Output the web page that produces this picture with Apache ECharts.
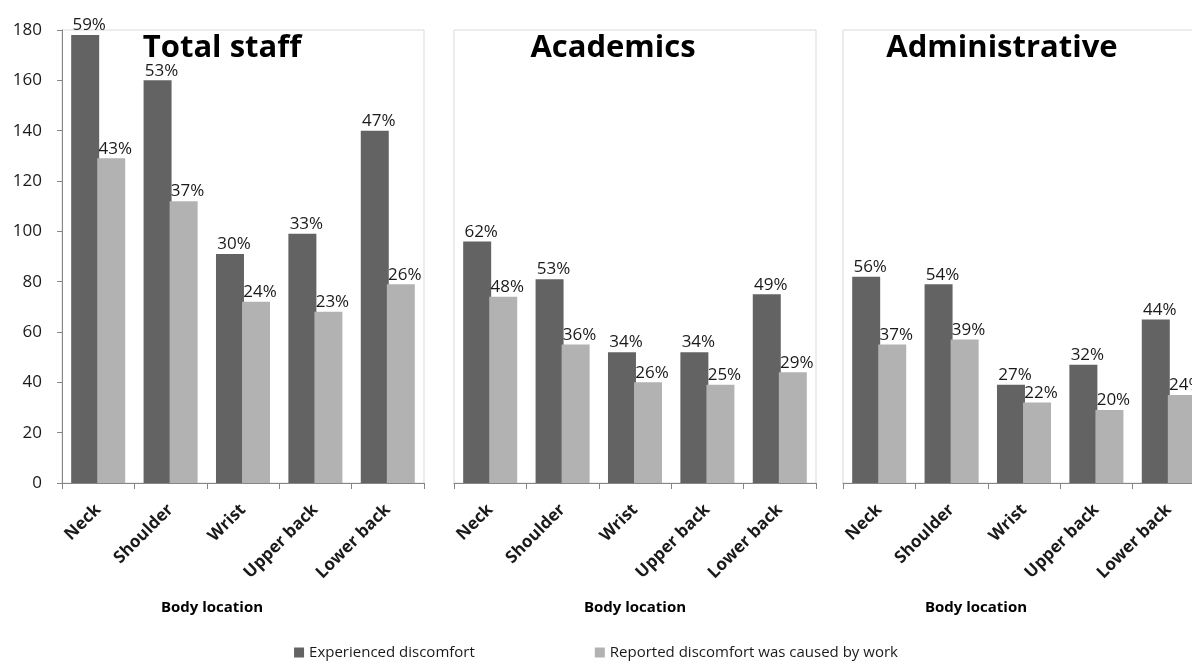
<!DOCTYPE html>
<html>
<head>
<meta charset="utf-8">
<script src="https://cdn.jsdelivr.net/npm/echarts@6/dist/echarts.min.js"></script>
<style>
  html, body { margin: 0; padding: 0; background: #ffffff; }
  #chart { width: 1192px; height: 669px; }
</style>
</head>
<body>
<div id="chart"></div>
<script>
// Body locations shown on every panel
const categories = ['Neck', 'Shoulder', 'Wrist', 'Upper back', 'Lower back'];
const panelTitles = ['Total staff', 'Academics', 'Administrative'];
const axisTitle = 'Body location';
const seriesNames = ['Experienced discomfort', 'Reported discomfort was caused by work'];

// Counts of staff (bar heights) and share of the group (labels), per panel
const totalExperienced = [178, 160, 91, 99, 140];
const totalWork = [129, 112, 72, 68, 79];
const totalExperiencedPct = [59, 53, 30, 33, 47];
const totalWorkPct = [43, 37, 24, 23, 26];

const acadExperienced = [96, 81, 52, 52, 75];
const acadWork = [74, 55, 40, 39, 44];
const acadExperiencedPct = [62, 53, 34, 34, 49];
const acadWorkPct = [48, 36, 26, 25, 29];

const adminExperienced = [82, 79, 39, 47, 65];
const adminWork = [55, 57, 32, 29, 35];
const adminExperiencedPct = [56, 54, 27, 32, 44];
const adminWorkPct = [37, 39, 22, 20, 24];

// Value axis range
const yMin = 0, yMax = 180, yStep = 20;

const panels = [
  { title: panelTitles[0], exp: totalExperienced, work: totalWork, expPct: totalExperiencedPct, workPct: totalWorkPct },
  { title: panelTitles[1], exp: acadExperienced, work: acadWork, expPct: acadExperiencedPct, workPct: acadWorkPct },
  { title: panelTitles[2], exp: adminExperienced, work: adminWork, expPct: adminExperiencedPct, workPct: adminWorkPct }
];

const FONT = '"Open Sans", "DejaVu Sans", sans-serif';
const DARK = '#636363';
const LIGHT = '#b2b2b2';
const AXIS = '#868686';

// The third panel runs past the right edge of the page and is cut off there
const gridLeft = [62, 454, 843];
const gridWidth = 362;
const gridTop = 30;
const gridHeight = 453;
const titleCenters = [222, 613, 1002];
const axisTitleCenters = [212, 635, 976];

const grids = [], xAxes = [], yAxes = [], series = [], titles = [];

panels.forEach((p, i) => {
  grids.push({
    left: gridLeft[i], top: gridTop, width: gridWidth, height: gridHeight,
    outerBoundsMode: 'none', containLabel: false,
    show: true, borderColor: '#d9d9d9', borderWidth: 1, backgroundColor: 'transparent'
  });
  xAxes.push({
    type: 'category', gridIndex: i, data: categories,
    axisLine: { lineStyle: { color: AXIS, width: 1 } },
    axisTick: { show: true, length: 6, lineStyle: { color: AXIS } },
    axisLabel: {
      interval: 0, rotate: 45, margin: 24,
      fontFamily: FONT, fontSize: 17, fontWeight: 'bold', color: '#1a1a1a'
    },
    splitLine: { show: false }
  });
  yAxes.push({
    type: 'value', gridIndex: i, min: yMin, max: yMax, interval: yStep,
    axisLine: { show: i === 0, lineStyle: { color: AXIS, width: 1 } },
    axisTick: { show: i === 0, length: 5, lineStyle: { color: AXIS } },
    axisLabel: { show: i === 0, fontFamily: FONT, fontSize: 17, color: '#1a1a1a', margin: 20 },
    splitLine: { show: false }
  });
  const mk = (name, data, pct, color) => ({
    name, type: 'bar', xAxisIndex: i, yAxisIndex: i,
    data, barWidth: 28, barGap: '-7%',
    itemStyle: { color },
    label: {
      show: true, position: 'top', distance: 1, offset: [4, 0],
      fontFamily: FONT, fontSize: 17, color: '#1a1a1a',
      formatter: (d) => pct[d.dataIndex] + '%'
    },
    emphasis: { disabled: true },
    animation: false
  });
  series.push(mk(seriesNames[0], p.exp, p.expPct, DARK));
  series.push(mk(seriesNames[1], p.work, p.workPct, LIGHT));

  titles.push({
    text: p.title, left: titleCenters[i], top: 33, textAlign: 'center', padding: 0,
    textStyle: { fontFamily: FONT, fontSize: 31, fontWeight: 'bold', color: '#000' }
  });
  titles.push({
    text: axisTitle, left: axisTitleCenters[i], top: 600, textAlign: 'center', padding: 0,
    textStyle: { fontFamily: FONT, fontSize: 15, fontWeight: 'bold', color: '#000' }
  });
});

const chart = echarts.init(document.getElementById('chart'), null, { renderer: 'canvas' });
chart.setOption({
  backgroundColor: '#ffffff',
  animation: false,
  title: titles,
  legend: {
    data: seriesNames, bottom: 4, left: 'center',
    icon: 'rect', itemWidth: 10, itemHeight: 10, itemGap: 120,
    textStyle: { fontFamily: FONT, fontSize: 15, color: '#1a1a1a' }
  },
  grid: grids,
  xAxis: xAxes,
  yAxis: yAxes,
  series: series
});
</script>
</body>
</html>
